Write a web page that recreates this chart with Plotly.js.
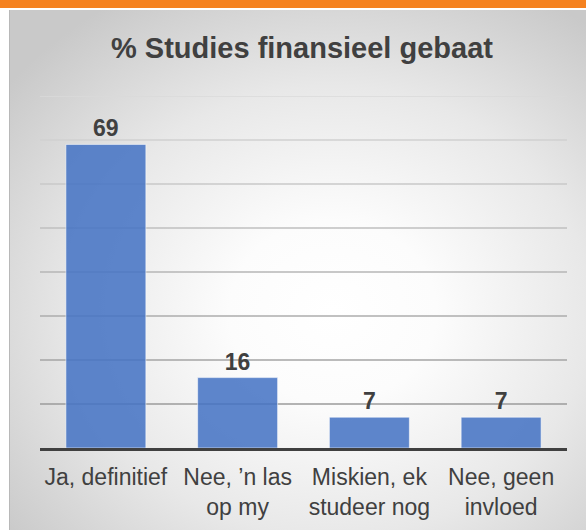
<!DOCTYPE html>
<html>
<head>
<meta charset="utf-8">
<script src="https://cdn.plot.ly/plotly-3.0.1.min.js"></script>
<style>
  html, body { margin: 0; padding: 0; background: #ffffff; }
  #wrap { position: relative; width: 586px; height: 530px; overflow: hidden; }
  #orange { position: absolute; left: 0; top: 0; width: 586px; height: 8px; background: #f58220; }
  #panel {
    position: absolute; left: 9px; top: 10px; width: 577px; height: 520px;
    border-left: 1px solid #b8b8b8; box-sizing: border-box;
    background: radial-gradient(ellipse 72% 70% at 56% 58%, #ffffff 0%, #fcfcfc 25%, #e8e8e8 62%, #c9c9c9 100%);
  }
  #chart { position: absolute; left: 0; top: 0; width: 586px; height: 530px; }
</style>
</head>
<body>
<div id="wrap">
  <div id="orange"></div>
  <div id="panel"></div>
  <div id="chart"></div>
</div>
<script>
const categories = [
  "Ja, definitief",
  "Nee, \u2019n las<br>op my",
  "Miskien, ek<br>studeer nog",
  "Nee, geen<br>invloed"
];
const values = [69, 16, 7, 7];
const gridTicks = [10, 20, 30, 40, 50, 60, 70, 80];
const titleText = "% Studies finansieel gebaat";

const FONT = "Liberation Sans, Arial, Helvetica, sans-serif";

// gridlines that get darker toward the bottom
function gridColor(v) {
  const t = (v - 10) / 70; // 0 bottom .. 1 top
  const c = Math.round(155 + t * (218 - 155));
  return `rgb(${c},${c},${c})`;
}
const shapes = gridTicks.map(v => ({
  type: 'line', xref: 'paper', x0: 0, x1: 1, yref: 'y', y0: v, y1: v,
  line: { color: gridColor(v), width: 1.5 }, layer: 'below'
}));

const trace = {
  type: 'bar',
  x: categories,
  y: values,
  marker: { color: 'rgba(68,114,196,0.86)', line: { color: 'rgba(255,255,255,0.55)', width: 1 } },
  texttemplate: '%{y}',
  textposition: 'outside',
  cliponaxis: false,
  textfont: { family: FONT, size: 23, color: '#404040', weight: 'bold' },
  hoverinfo: 'none'
};

const layout = {
  width: 586, height: 530,
  margin: { l: 40, r: 19, t: 96, b: 82 },
  paper_bgcolor: 'rgba(0,0,0,0)',
  plot_bgcolor: 'rgba(0,0,0,0)',
  showlegend: false,
  bargap: 0.393,
  title: {
    text: titleText,
    font: { family: FONT, size: 29, color: '#404040', weight: 'bold' },
    xref: 'container', x: 302 / 586, xanchor: 'center',
    yref: 'container', y: 1 - 48 / 530, yanchor: 'middle'
  },
  xaxis: {
    type: 'category',
    showgrid: false,
    showline: true, linecolor: '#404040', linewidth: 3,
    ticks: '',
    ticklabelstandoff: 6,
    tickfont: { family: FONT, size: 23, color: '#404040' },
    fixedrange: true
  },
  yaxis: {
    range: [0, 80],
    showgrid: false,
    zeroline: false,
    showticklabels: false,
    ticks: '',
    fixedrange: true
  },
  shapes: shapes
};

Plotly.newPlot('chart', [trace], layout, { displayModeBar: false, staticPlot: true });
</script>
</body>
</html>
